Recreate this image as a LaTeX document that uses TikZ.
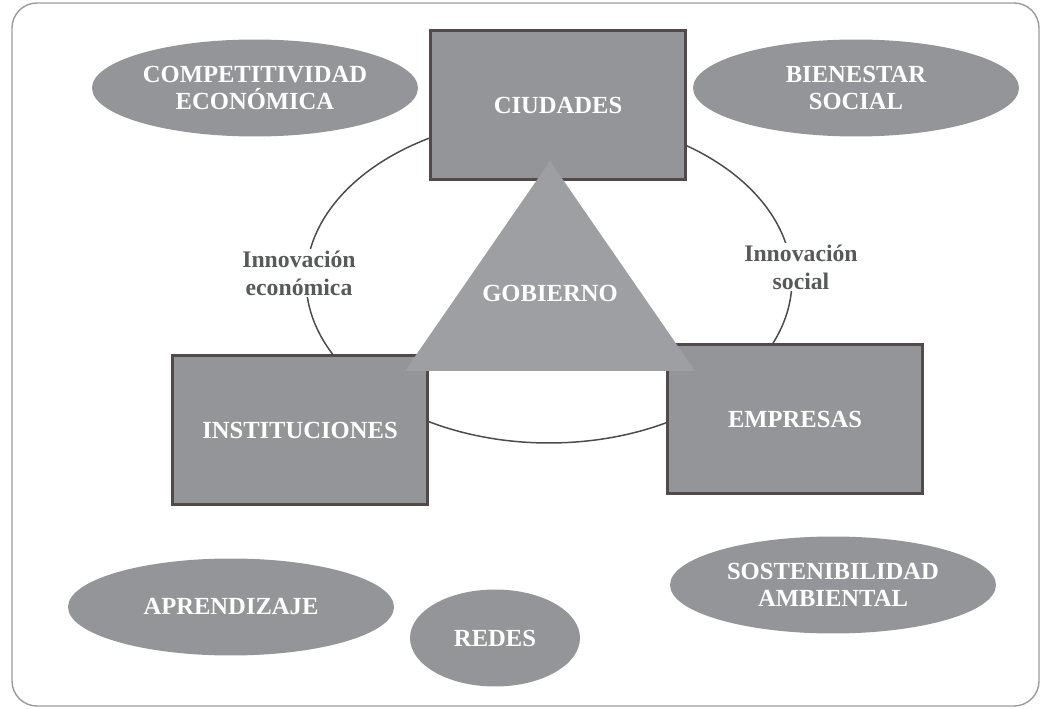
\documentclass[tikz,border=0pt]{standalone}
\usepackage{fontspec}
\setmainfont{Liberation Serif}
\usetikzlibrary{shapes.geometric,positioning}

\definecolor{boxgray}{HTML}{939598}
\definecolor{trigray}{HTML}{9D9FA2}
\definecolor{edgegray}{HTML}{524A48}
\definecolor{textgray}{HTML}{58595B}
\definecolor{framegray}{HTML}{9B9B9B}

\begin{document}
\begin{tikzpicture}[x=0.02cm,y=-0.02cm,
  goal/.style={ellipse,fill=boxgray,minimum width=6.52cm,minimum height=1.94cm,inner sep=0pt,
    text=white,align=center,font=\fontsize{14}{15.5}\selectfont\bfseries},
  actor/.style={rectangle,draw=edgegray,line width=1.4pt,fill=boxgray,minimum width=5.1cm,
    minimum height=2.98cm,text=white,font=\fontsize{14}{16}\selectfont\bfseries},
  tag/.style={fill=white,inner sep=1pt,text=textgray,align=center,
    font=\fontsize{13.5}{16}\selectfont\bfseries}]
\useasboundingbox (0,0) rectangle (1042,709);

% frame
\draw[framegray,line width=0.8pt,rounded corners=0.5cm] (12,3) rectangle (1039,706);

% ring
\draw[black!70,line width=0.85pt] (549,280) ellipse [x radius=4.86cm, y radius=3.26cm];

% actors
\node[actor] (ciudades) at (558,105) {CIUDADES};
\node[actor] (instituciones) at (300,430) {INSTITUCIONES};
\node[actor] (empresas) at (795,419) {EMPRESAS};

% government triangle
\coordinate (apex) at (550,161);
\coordinate (baser) at (695,371);
\coordinate (basel) at (405,371);
\fill[trigray] (apex) -- (baser) -- (basel) -- cycle;
\node[text=white,font=\fontsize{14}{16}\selectfont\bfseries] (gobierno) at (550,293) {GOBIERNO};

% goals
\node[goal] (competitividad) at (255,88) {COMPETITIVIDAD\\ECONÓMICA};
\node[goal] (bienestar) at (856,88) {BIENESTAR\\SOCIAL};
\node[goal] (aprendizaje) at (231,607) {APRENDIZAJE};
\node[goal,minimum width=3.4cm] (redes) at (495,638) {REDES};
\node[goal] (sostenibilidad) at (833,585) {SOSTENIBILIDAD\\AMBIENTAL};

% labels on the ring
\node[tag] (economica) at (299,273) {Innovación\\económica};
\node[tag] (social) at (801,267) {Innovación\\social};
\end{tikzpicture}
\end{document}
